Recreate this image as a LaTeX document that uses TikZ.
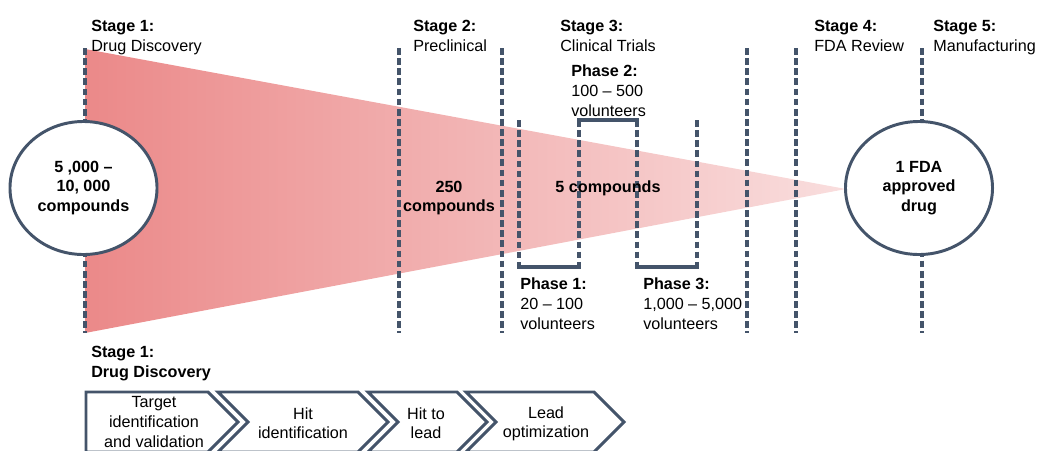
\documentclass[tikz,border=0pt]{standalone}
\usepackage{fontspec}
\setmainfont{Liberation Sans}
\usepackage{xcolor}
\usetikzlibrary{positioning,shapes.geometric}

\definecolor{slate}{HTML}{44546A}
\definecolor{funnelL}{RGB}{235,137,137}
\definecolor{funnelR}{RGB}{249,222,222}

\tikzset{
  labeltxt/.style={inner sep=0pt, text height=8.4pt, text depth=2.4pt, font=\fontsize{11.5}{13.9}\selectfont},
  headtxt/.style={labeltxt, font=\fontsize{11.5}{13.9}\selectfont\bfseries},
  stageline/.style={draw=slate, line width=2.3pt, dash pattern=on 4.8pt off 2.4pt},
  phasebar/.style={draw=slate, line width=2.3pt, line cap=rect},
  countcircle/.style={draw=slate, fill=white, line width=2.1pt, ellipse, inner sep=0pt,
    minimum width=3.675cm, minimum height=3.325cm, align=center,
    font=\fontsize{11.5}{13.9}\selectfont\bfseries},
  countbold/.style={inner sep=0pt, align=center, font=\fontsize{11.5}{13.9}\selectfont\bfseries},
  chevron/.style={draw=slate, line width=2.1pt, line join=miter},
  steptxt/.style={inner sep=0pt, align=center, font=\fontsize{11.5}{13.9}\selectfont}
}

\begin{document}
\begin{tikzpicture}[x=0.025cm, y=-0.025cm]
    \useasboundingbox (0,0) rectangle (1038,450);

    % Funnel
    \shade[left color=funnelL, right color=funnelR] (85,49) -- (846,189) -- (85,333) -- cycle;

    % Stage lines
    \foreach \x in {85,399,502,747,796,922}
        \draw[stageline] (\x,48) -- (\x,333);

    % Phases
    \foreach \x in {519,579,637,697}
        \draw[stageline] (\x,120) -- (\x,267);
    \draw[phasebar] (519,267) -- (579,267);
    \draw[phasebar] (579,120) -- (637,120);
    \draw[phasebar] (637,267) -- (697,267);

    % Compounds
    \node[countcircle] (start) at (83.5,188) {5 ,000 –\\10, 000\\compounds};
    \node[countcircle] (fda) at (919,188) {1 FDA\\approved\\drug};
    \node[countbold] (n250) at (449,198) {250\\compounds};
    \node[countbold] (n5) at (608,188) {5 compounds};

    % Stage labels
    \node[headtxt, anchor=base west] (st1) at (91,31) {Stage 1:};
    \node[labeltxt, below right=3.1pt and 0pt of st1.south west] (st1n) {Drug Discovery};
    \node[headtxt, anchor=base west] (st2) at (413,31) {Stage 2:};
    \node[labeltxt, below right=3.1pt and 0pt of st2.south west] (st2n) {Preclinical};
    \node[headtxt, anchor=base west] (st3) at (560,31) {Stage 3:};
    \node[labeltxt, below right=3.1pt and 0pt of st3.south west] (st3n) {Clinical Trials};
    \node[headtxt, anchor=base west] (st4) at (814,31) {Stage 4:};
    \node[labeltxt, below right=3.1pt and 0pt of st4.south west] (st4n) {FDA Review};
    \node[headtxt, anchor=base west] (st5) at (933,31) {Stage 5:};
    \node[labeltxt, below right=3.1pt and 0pt of st5.south west] (st5n) {Manufacturing};

    % Phase labels
    \node[headtxt, anchor=base west] (ph2) at (571,76) {Phase 2:};
    \node[labeltxt, below right=3.1pt and 0pt of ph2.south west] (ph2a) {100 – 500};
    \node[labeltxt, below right=3.1pt and 0pt of ph2a.south west] (ph2b) {volunteers};
    \node[headtxt, anchor=base west] (ph1) at (520,289) {Phase 1:};
    \node[labeltxt, below right=3.1pt and 0pt of ph1.south west] (ph1a) {20 – 100};
    \node[labeltxt, below right=3.1pt and 0pt of ph1a.south west] (ph1b) {volunteers};
    \node[headtxt, anchor=base west] (ph3) at (643,289) {Phase 3:};
    \node[labeltxt, below right=3.1pt and 0pt of ph3.south west] (ph3a) {1,000 – 5,000};
    \node[labeltxt, below right=3.1pt and 0pt of ph3a.south west] (ph3b) {volunteers};

    % Drug discovery steps
    \node[headtxt, anchor=base west] (dd) at (91,357) {Stage 1:};
    \node[headtxt, below right=3.1pt and 0pt of dd.south west] (ddn) {Drug Discovery};

    \draw[chevron] (86,392) -- (208,392) -- (238,422) -- (208,452) -- (86,452) -- cycle;
    \draw[chevron] (218,392) -- (358,392) -- (388,422) -- (358,452) -- (218,452) -- (248,422) -- cycle;
    \draw[chevron] (368,392) -- (457,392) -- (487,422) -- (457,452) -- (368,452) -- (398,422) -- cycle;
    \draw[chevron] (466,392) -- (594,392) -- (624,422) -- (594,452) -- (466,452) -- (496,422) -- cycle;

    \node[steptxt] (tgt) at (154,422) {Target\\identification\\and validation};
    \node[steptxt] (hit) at (303,423) {Hit\\identification};
    \node[steptxt] (h2l) at (426,423) {Hit to\\lead};
    \node[steptxt] (lead) at (546,424) {Lead\\optimization};
\end{tikzpicture}
\end{document}
